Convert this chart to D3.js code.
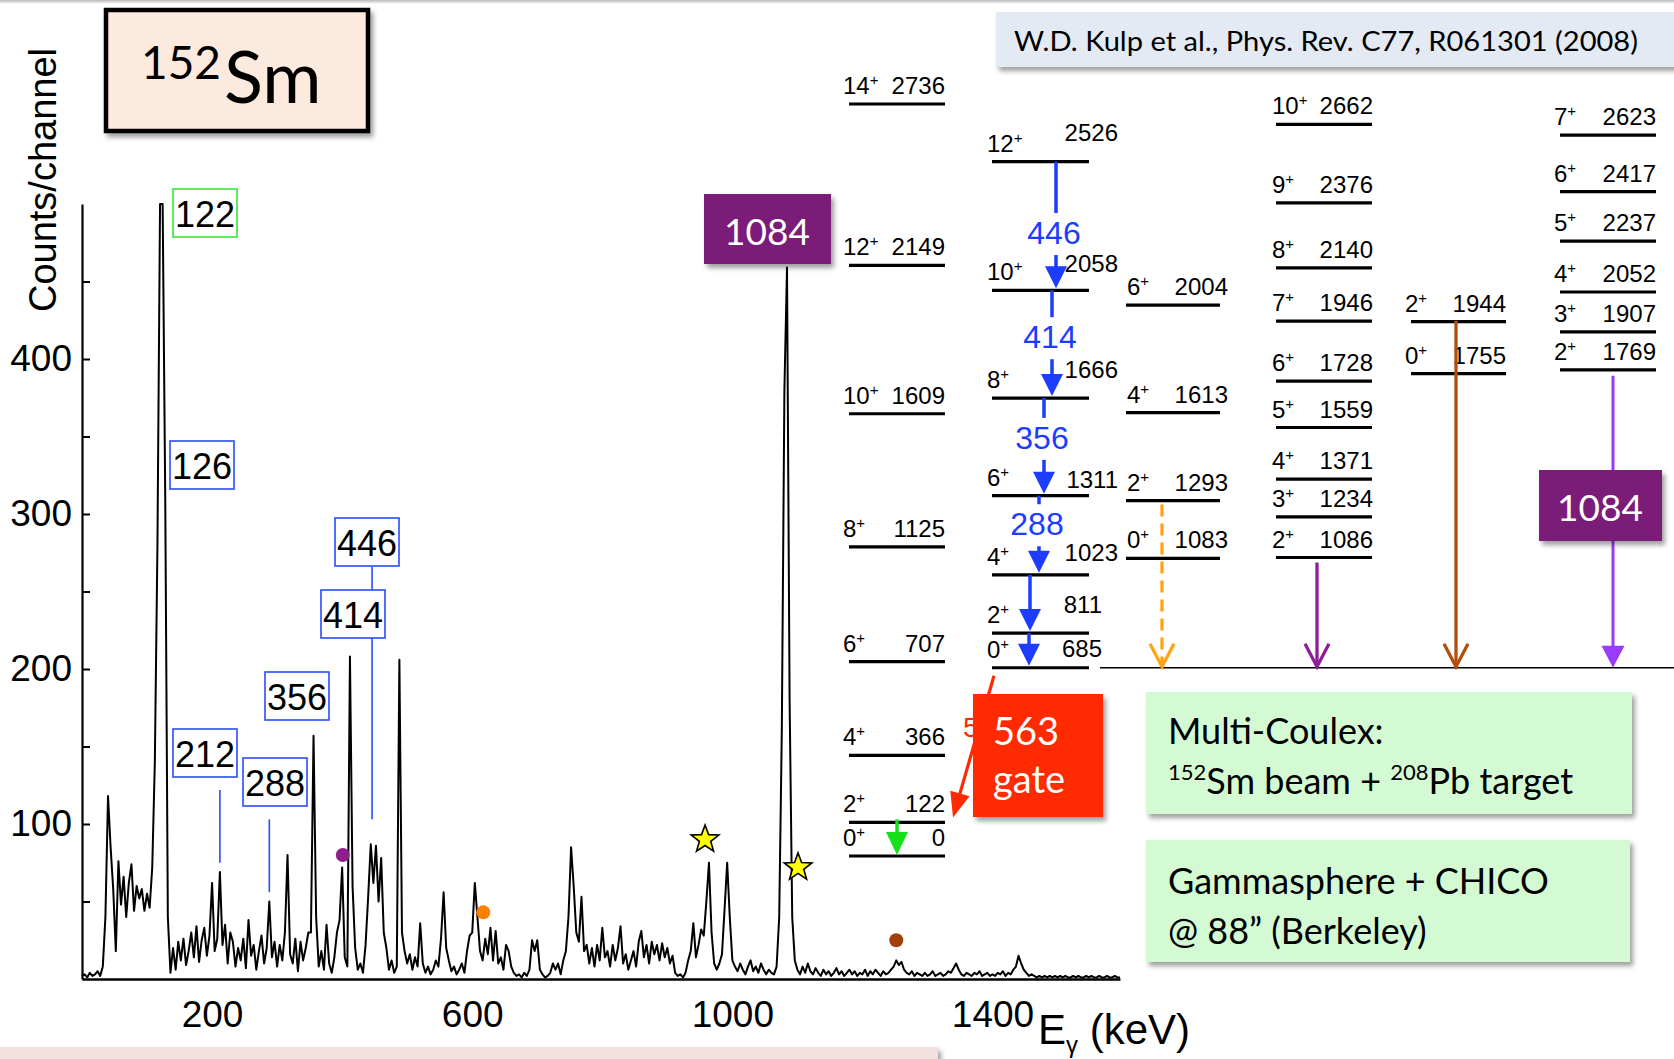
<!DOCTYPE html>
<html>
<head>
<meta charset="utf-8">
<script src="https://cdn.jsdelivr.net/npm/d3@7"></script>
<style>
  html, body { margin: 0; padding: 0; background: #fff; }
  svg { display: block; }
</style>
</head>
<body>
<svg id="chart" width="1674" height="1059"></svg>
<script>
// ---------------------------------------------------------------------------
// Gamma-ray spectrum, 4 keV per channel, starting at 0 keV
// ---------------------------------------------------------------------------
const channelWidth = 4;
const counts = [
  // 0 – 96 keV
  2,3,1,4,2,3,5,2,8,40,118,85,58,18,76,48,66,40,62,74,44,60,52,58,44,
  // 100 – 196 keV
  55,46,72,140,280,500,500,310,40,4,20,6,24,12,26,9,18,30,14,34,11,25,33,15,28,
  // 200 – 296 keV
  62,18,26,69,22,35,10,30,24,8,20,12,26,7,38,15,22,6,18,28,10,20,50,14,24,
  // 300 – 396 keV
  8,22,12,30,80,16,10,26,5,24,12,20,30,30,157,40,8,18,6,35,10,4,14,30,38,
  // 400 – 496 keV
  72,14,8,208,60,20,6,10,4,22,53,87,62,86,50,78,30,20,6,12,4,8,206,30,18,
  // 500 – 596 keV
  10,16,6,14,8,36,10,4,8,3,6,12,8,26,56,20,12,5,8,3,6,10,4,18,28,
  // 600 – 696 keV
  30,62,40,18,12,26,16,33,12,31,10,14,6,22,18,8,4,2,3,1,4,2,6,25,18,
  // 700 – 796 keV
  25,6,3,1,2,4,10,6,10,3,12,18,40,85,60,30,24,53,18,22,10,20,8,22,12,
  // 800 – 896 keV
  33,14,18,8,22,12,20,34,10,16,6,12,18,8,24,31,14,22,10,24,16,22,12,23,14,
  // 900 – 996 keV
  20,10,15,4,2,3,1,4,12,18,36,14,22,32,28,50,75,30,10,6,10,16,45,75,40,
  // 1000 – 1096 keV
  12,8,5,10,6,3,8,12,5,8,4,10,6,3,6,4,3,8,40,160,380,459,180,40,12,
  // 1100 – 1196 keV
  6,3,8,4,10,5,3,7,4,2,6,3,5,2,4,7,3,5,2,4,6,3,5,2,4,
  // 1200 – 1296 keV
  3,6,2,5,3,6,4,2,5,3,4,6,8,12,9,11,6,4,3,5,2,4,3,2,4,
  // 1300 – 1396 keV
  2,3,5,2,3,4,2,3,5,4,7,10,6,3,2,4,3,2,4,3,5,2,3,4,2,
  // 1400 – 1496 keV
  3,2,4,3,5,2,4,3,6,8,15,10,6,4,2,3,2,1,2,1,2,1,2,1,2,
  // 1500 – 1596 keV
  1,2,1,2,1,1,2,1,2,1,1,2,1,2,1,1,2,1,1,2,1,1,2,1,1
];

const xTickValues = [200, 600, 1000, 1400];
const yTickValues = [50, 100, 150, 200, 250, 300, 350, 400, 450];
const yTickLabels = [100, 200, 300, 400];

// peak identifications written on the spectrum
const peakLabels   = ["122", "126", "446", "414", "356", "212", "288"];
// leader lines: energy, counts at top, counts at bottom
const leaderEnergies = [212, 288, 446];
const leaderTop      = [122, 103, 266];
const leaderBottom   = [75, 56, 103];

// coloured dots and stars over peaks: energy (keV), counts
const dotEnergies  = [401, 617, 1252];
const dotCounts    = [80, 43, 25];
const starEnergies = [958, 1101];
const starCounts   = [90, 72];

// level scheme of 152Sm: spins (all positive parity) and level energies (keV)
const gsbSpins   = ["0","2","4","6","8","10","12","14"];
const gsbE       = [0, 122, 366, 707, 1125, 1609, 2149, 2736];
const betaSpins  = ["0","2","4","6","8","10","12"];
const betaE      = [685, 811, 1023, 1311, 1666, 2058, 2526];
const betaGammas = ["", "", "288", "356", "414", "446"];
const bandCSpins = ["0","2","4","6"];
const bandCE     = [1083, 1293, 1613, 2004];
const gammaSpins = ["2","3","4","5","6","7","8","9","10"];
const gammaE     = [1086, 1234, 1371, 1559, 1728, 1946, 2140, 2376, 2662];
const bandESpins = ["0","2"];
const bandEE     = [1755, 1944];
const bandFSpins = ["2","3","4","5","6","7"];
const bandFE     = [1769, 1907, 2052, 2237, 2417, 2623];

// ---------------------------------------------------------------------------
const svg = d3.select("#chart");
const W = 1674, H = 1059;
const ARIAL = "'Liberation Sans', Arial, Helvetica, sans-serif";
const SANS  = "Lato, 'Open Sans', 'Noto Sans', sans-serif";

const defs = svg.append("defs");
const shadow = defs.append("filter").attr("id", "shadow")
  .attr("x", "-10%").attr("y", "-10%").attr("width", "130%").attr("height", "140%");
shadow.append("feDropShadow").attr("dx", 3).attr("dy", 4).attr("stdDeviation", 2.5)
  .attr("flood-color", "#000").attr("flood-opacity", 0.38);
const topGrad = defs.append("linearGradient").attr("id", "topGrad")
  .attr("x1", 0).attr("y1", 0).attr("x2", 0).attr("y2", 1);
topGrad.append("stop").attr("offset", 0).attr("stop-color", "#b8b8b8");
topGrad.append("stop").attr("offset", 1).attr("stop-color", "#ffffff");

svg.append("rect").attr("width", W).attr("height", H).attr("fill", "#fff");
svg.append("rect").attr("x", 0).attr("y", 0).attr("width", W).attr("height", 4).attr("fill", "url(#topGrad)");

// bottom band
svg.append("rect").attr("x", -10).attr("y", 1047).attr("width", 948).attr("height", 20)
  .attr("fill", "#f3e0de").attr("filter", "url(#shadow)");

// ---------------------------------------------------------------------------
// Spectrum
// ---------------------------------------------------------------------------
const x = d3.scaleLinear().domain([0, 1596]).range([82, 1120]);
const y = d3.scaleLinear().domain([0, 500]).range([979, 204]);

const spectrum = counts.map((c, i) => ({ e: i * channelWidth, c }));
svg.append("path")
  .datum(spectrum)
  .attr("d", d3.line().x(d => x(d.e)).y(d => y(Math.min(d.c, 500))))
  .attr("fill", "none")
  .attr("stroke", "#000")
  .attr("stroke-width", 2)
  .attr("stroke-linejoin", "round");

const yAxis = svg.append("g")
  .attr("transform", `translate(${x(0)},0)`)
  .call(d3.axisLeft(y).tickValues(yTickValues)
    .tickFormat(d => yTickLabels.includes(d) ? d : "")
    .tickSizeInner(-8).tickSizeOuter(0).tickPadding(10));
yAxis.attr("font-family", ARIAL).attr("font-size", 37);
yAxis.select(".domain").attr("stroke-width", 2.2);
yAxis.selectAll(".tick line").attr("stroke-width", 2);
yAxis.selectAll(".tick text").attr("fill", "#000");

const xAxis = svg.append("g")
  .attr("transform", `translate(0,${y(0)})`)
  .call(d3.axisBottom(x).tickValues(xTickValues).tickFormat(d3.format("d"))
    .tickSize(0).tickPadding(22));
xAxis.attr("font-family", ARIAL).attr("font-size", 37);
xAxis.select(".domain").attr("stroke-width", 2.6);
xAxis.selectAll(".tick text").attr("fill", "#000");

// axis titles
svg.append("text")
  .attr("transform", "translate(56,180) rotate(-90)")
  .attr("text-anchor", "middle")
  .attr("font-family", ARIAL).attr("font-size", 38)
  .text("Counts/channel");

const eTitle = svg.append("text")
  .attr("x", 1038).attr("y", 1044)
  .attr("font-family", ARIAL).attr("font-size", 42);
eTitle.append("tspan").text("E");
eTitle.append("tspan").attr("font-size", 24).attr("dy", 9).text("γ");
eTitle.append("tspan").attr("dy", -9).text(" (keV)");

// leader lines from labels to peaks
leaderEnergies.forEach((e, i) => {
  svg.append("line")
    .attr("x1", x(e)).attr("x2", x(e))
    .attr("y1", y(leaderTop[i])).attr("y2", y(leaderBottom[i]))
    .attr("stroke", "#2a4cff").attr("stroke-width", 1.6);
});

// labelled boxes: left, top, border colour
const peakBoxLayout = {
  "122": [173, 189, "#35e635"],
  "126": [170, 441, "#2a4cff"],
  "446": [335, 518, "#2a4cff"],
  "414": [321, 590, "#2a4cff"],
  "356": [265, 672, "#2a4cff"],
  "212": [173, 729, "#2a4cff"],
  "288": [243, 758, "#2a4cff"]
};
peakLabels.forEach(lbl => {
  const [bx, by, col] = peakBoxLayout[lbl];
  svg.append("rect").attr("x", bx).attr("y", by).attr("width", 64).attr("height", 48)
    .attr("fill", "#fff").attr("stroke", col).attr("stroke-width", 1.6);
  svg.append("text").attr("x", bx + 32).attr("y", by + 38)
    .attr("text-anchor", "middle")
    .attr("font-family", ARIAL).attr("font-size", 36)
    .text(lbl);
});

// dots
const dotColors = ["#8e1e8c", "#ff8000", "#a2400c"];
dotEnergies.forEach((e, i) => {
  svg.append("circle").attr("cx", x(e)).attr("cy", y(dotCounts[i])).attr("r", 7)
    .attr("fill", dotColors[i]);
});

// stars
function starPath(cx, cy, R, r) {
  const pts = [];
  for (let k = 0; k < 10; k++) {
    const a = -Math.PI / 2 + k * Math.PI / 5;
    const rad = k % 2 === 0 ? R : r;
    pts.push([cx + rad * Math.cos(a), cy + rad * Math.sin(a)]);
  }
  return "M" + pts.map(p => p.join(",")).join("L") + "Z";
}
starEnergies.forEach((e, i) => {
  svg.append("path").attr("d", starPath(x(e), y(starCounts[i]), 14.5, 6))
    .attr("fill", "#ffff00").attr("stroke", "#000").attr("stroke-width", 1.6)
    .attr("stroke-linejoin", "miter");
});

// ---------------------------------------------------------------------------
// Boxes in the upper part
// ---------------------------------------------------------------------------
svg.append("rect").attr("x", 106).attr("y", 10).attr("width", 262).attr("height", 121)
  .attr("fill", "#fdeadf").attr("stroke", "#000").attr("stroke-width", 4.5)
  .attr("filter", "url(#shadow)");
const iso = svg.append("text").attr("x", 141).attr("y", 103)
  .attr("font-family", SANS).attr("fill", "#000");
iso.append("tspan").attr("font-size", 46).attr("dy", -24).text("152");
iso.append("tspan").attr("font-size", 72).attr("dy", 24).attr("dx", 3).text("Sm");

svg.append("rect").attr("x", 996).attr("y", 12).attr("width", 700).attr("height", 55)
  .attr("fill", "#e4eaf3").attr("filter", "url(#shadow)");
svg.append("text").attr("x", 1014).attr("y", 51)
  .attr("font-family", SANS).attr("font-size", 27)
  .attr("textLength", 624).attr("lengthAdjust", "spacingAndGlyphs")
  .text("W.D. Kulp et al., Phys. Rev. C77, R061301 (2008)");

// ---------------------------------------------------------------------------
// Level scheme
// ---------------------------------------------------------------------------
const yLevel = d3.scaleLinear().domain([0, 2736]).range([856, 104]);
const ls = svg.append("g").attr("font-family", ARIAL).attr("font-size", 24).attr("fill", "#000");

const cols = {
  gsb:   { x0: 849,  x1: 945,  spinX: 843,  eRight: 945 },
  beta:  { x0: 992,  x1: 1089, spinX: 987,  eRight: 1118 },
  bandC: { x0: 1126, x1: 1220, spinX: 1127, eRight: 1228 },
  gamma: { x0: 1276, x1: 1372, spinX: 1272, eRight: 1373 },
  bandE: { x0: 1411, x1: 1506, spinX: 1405, eRight: 1506 },
  bandF: { x0: 1560, x1: 1656, spinX: 1554, eRight: 1656 }
};

function drawBand(spins, energies, col, eX, eDy) {
  energies.forEach((e, i) => {
    const yy = yLevel(e);
    ls.append("line").attr("x1", col.x0).attr("x2", col.x1).attr("y1", yy).attr("y2", yy)
      .attr("stroke", "#000").attr("stroke-width", 3.2);
    const sp = ls.append("text").attr("x", col.spinX).attr("y", yy - 10);
    sp.append("tspan").text(spins[i]);
    sp.append("tspan").attr("font-size", 15).attr("dy", -9).text("+");
    ls.append("text")
      .attr("x", eX ? eX[i] : col.eRight)
      .attr("y", yy - (eDy ? eDy[i] : 10))
      .attr("text-anchor", "end")
      .text(e);
  });
}

// base line of the 0+ (685) level extended under the side bands
ls.append("line").attr("x1", 1100).attr("x2", W).attr("y1", yLevel(685)).attr("y2", yLevel(685))
  .attr("stroke", "#000").attr("stroke-width", 1.5);

drawBand(gsbSpins, gsbE, cols.gsb);
drawBand(betaSpins, betaE, cols.beta,
  [1102, 1102, 1118, 1118, 1118, 1118, 1118],
  [11, 20, 14, 8, 20, 18, 21]);
drawBand(bandCSpins, bandCE, cols.bandC);
drawBand(gammaSpins, gammaE, cols.gamma);
drawBand(bandESpins, bandEE, cols.bandE);
drawBand(bandFSpins, bandFE, cols.bandF);

function headPoints(xTip, yTip, dx, dy, len, half) {
  const L = Math.hypot(dx, dy), ux = dx / L, uy = dy / L;
  const bx = xTip - ux * len, by = yTip - uy * len;
  return [[xTip, yTip], [bx - uy * half, by + ux * half], [bx + uy * half, by - ux * half]]
    .map(p => p.join(",")).join(" ");
}

// in-band cascade of the 0+ (685) band
const BLUE = "#1c3cff";
const betaArrowX = [1029, 1030, 1039, 1044, 1052, 1056];
const betaLabelShift = [0, 0, 0, 2, 4, 18];
betaGammas.forEach((lbl, i) => {
  const ax = betaArrowX[i];
  const yTop = yLevel(betaE[i + 1]);
  const yTip = yLevel(betaE[i]) - 2;
  const headLen = 22;
  if (lbl) {
    const base = (yTop + yLevel(betaE[i])) / 2 + betaLabelShift[i];
    ls.append("line").attr("x1", ax).attr("x2", ax).attr("y1", yTop).attr("y2", base - 31)
      .attr("stroke", BLUE).attr("stroke-width", 3.5);
    ls.append("line").attr("x1", ax).attr("x2", ax).attr("y1", base + 11).attr("y2", yTip - headLen + 2)
      .attr("stroke", BLUE).attr("stroke-width", 3.5);
    ls.append("text").attr("x", ax - 2).attr("y", base).attr("text-anchor", "middle")
      .attr("font-size", 32).attr("fill", BLUE).text(lbl);
  } else {
    ls.append("line").attr("x1", ax).attr("x2", ax).attr("y1", yTop).attr("y2", yTip - headLen + 2)
      .attr("stroke", BLUE).attr("stroke-width", 3.5);
  }
  ls.append("polygon").attr("points", headPoints(ax, yTip, 0, 1, headLen, 11)).attr("fill", BLUE);
});

// 2+ -> 0+ in the ground band
const GREEN = "#18e018";
{
  const gx = 897, yTop = yLevel(122) - 3, yTip = yLevel(0) - 1;
  ls.append("line").attr("x1", gx).attr("x2", gx).attr("y1", yTop).attr("y2", yTip - 20)
    .attr("stroke", GREEN).attr("stroke-width", 3.5);
  ls.append("polygon").attr("points", headPoints(gx, yTip, 0, 1, 23, 11)).attr("fill", GREEN);
}

// open-headed decays into the 0+ (685) level
function openArrow(ax, yStart, yEnd, color, dashed) {
  const l = ls.append("line").attr("x1", ax).attr("x2", ax).attr("y1", yStart).attr("y2", yEnd - 2)
    .attr("stroke", color).attr("stroke-width", 3.3);
  if (dashed) l.attr("stroke-dasharray", "12,7");
  ls.append("polyline")
    .attr("points", `${ax - 12},${yEnd - 24} ${ax},${yEnd - 1} ${ax + 12},${yEnd - 24}`)
    .attr("fill", "none").attr("stroke", color).attr("stroke-width", 3.3);
}
openArrow(1162, yLevel(1293) + 4, yLevel(685), "#ffa514", true);
openArrow(1317, yLevel(1086) + 5, yLevel(685), "#8d1e98", false);
openArrow(1456, yLevel(1944) - 1, yLevel(685), "#b34e0a", false);

// 2+ (1769) -> 0+ (685), the 1084 keV line
const VIOLET = "#9a3cff";
{
  const vx = 1613, yTip = yLevel(685);
  ls.append("line").attr("x1", vx).attr("x2", vx).attr("y1", yLevel(1769) + 6).attr("y2", yTip - 20)
    .attr("stroke", VIOLET).attr("stroke-width", 3);
  ls.append("polygon").attr("points", headPoints(vx, yTip, 0, 1, 22, 11.5)).attr("fill", VIOLET);
}

// 563 keV gate, 0+ (685) -> 2+ (122); its energy label sits mostly under the gate box
const RED = "#ff2a00";
{
  const x1 = cols.beta.x0 + 2, y1 = yLevel(685) + 8;
  const x2 = cols.gsb.x1 + 8, y2 = yLevel(122) - 5;
  const dx = x2 - x1, dy = y2 - y1, L = Math.hypot(dx, dy);
  ls.append("line").attr("x1", x1).attr("y1", y1)
    .attr("x2", x2 - dx / L * 20).attr("y2", y2 - dy / L * 20)
    .attr("stroke", RED).attr("stroke-width", 3.2);
  ls.append("polygon").attr("points", headPoints(x2, y2, dx, dy, 25, 10)).attr("fill", RED);
  ls.append("text").attr("x", 963).attr("y", 737).attr("font-size", 28).attr("fill", RED).text("5");
}

// labelled boxes of the level scheme
svg.append("rect").attr("x", 973).attr("y", 694).attr("width", 130).attr("height", 123)
  .attr("fill", RED).attr("filter", "url(#shadow)");
svg.append("text").attr("x", 993).attr("y", 745).attr("font-family", SANS)
  .attr("font-size", 38).attr("fill", "#fff").text("563");
svg.append("text").attr("x", 993).attr("y", 793).attr("font-family", SANS)
  .attr("font-size", 38).attr("fill", "#fff").text("gate");

const PURPLE = "#7a1a78";
svg.append("rect").attr("x", 704).attr("y", 194).attr("width", 127).attr("height", 70)
  .attr("fill", PURPLE).attr("filter", "url(#shadow)");
svg.append("text").attr("x", 767).attr("y", 245).attr("text-anchor", "middle")
  .attr("font-family", SANS).attr("font-size", 37).attr("fill", "#fff").text("1084");

svg.append("rect").attr("x", 1539).attr("y", 470).attr("width", 123).attr("height", 71)
  .attr("fill", PURPLE).attr("filter", "url(#shadow)");
svg.append("text").attr("x", 1600).attr("y", 521).attr("text-anchor", "middle")
  .attr("font-family", SANS).attr("font-size", 37).attr("fill", "#fff").text("1084");

// experiment notes
const GREEN_BG = "#d4fad4";
svg.append("rect").attr("x", 1146).attr("y", 692).attr("width", 486).attr("height", 122)
  .attr("fill", GREEN_BG).attr("filter", "url(#shadow)");
svg.append("rect").attr("x", 1146).attr("y", 840).attr("width", 484).attr("height", 122)
  .attr("fill", GREEN_BG).attr("filter", "url(#shadow)");

const notes = svg.append("g").attr("font-family", SANS).attr("font-size", 36).attr("fill", "#000");
notes.append("text").attr("x", 1168).attr("y", 744).text("Multi-Coulex:");
const beam = notes.append("text").attr("x", 1168).attr("y", 794);
beam.append("tspan").attr("font-size", 22).attr("dy", -14).text("152");
beam.append("tspan").attr("dy", 14).text("Sm beam + ");
beam.append("tspan").attr("font-size", 22).attr("dy", -14).text("208");
beam.append("tspan").attr("dy", 14).text("Pb target");
notes.append("text").attr("x", 1168).attr("y", 894).text("Gammasphere + CHICO");
notes.append("text").attr("x", 1168).attr("y", 944).text("@ 88\u201D (Berkeley)");
</script>
</body>
</html>
